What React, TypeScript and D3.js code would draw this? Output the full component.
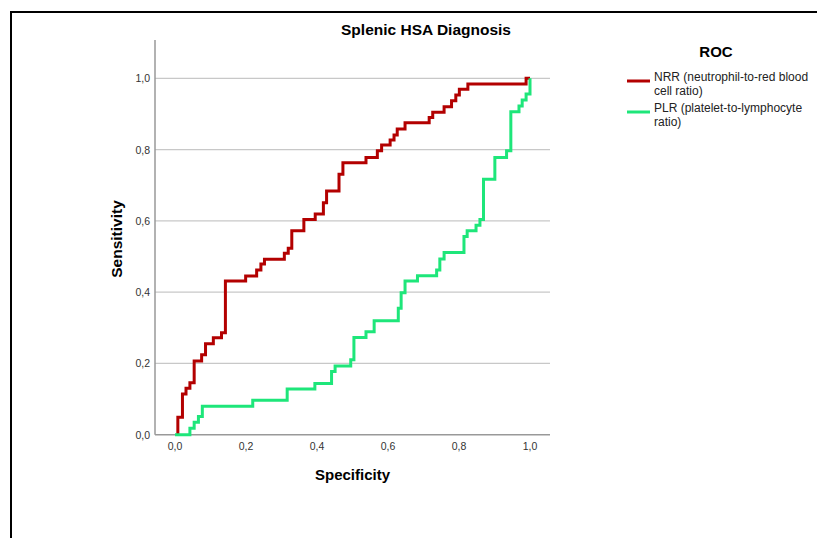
import * as d3 from 'd3';

// ROC step points (specificity axis value, sensitivity)
const nrrSpec = [0.008, 0.008, 0.021, 0.031, 0.042, 0.054, 0.075, 0.086, 0.108, 0.131, 0.142, 0.199, 0.230, 0.242, 0.252, 0.308, 0.319, 0.329, 0.363, 0.395, 0.418, 0.427, 0.462, 0.473, 0.538, 0.570, 0.582, 0.606, 0.617, 0.626, 0.648, 0.716, 0.726, 0.758, 0.779, 0.791, 0.801, 0.825, 0.989, 1.0];
const nrrSens = [0, 0.049, 0.114, 0.130, 0.146, 0.207, 0.224, 0.255, 0.272, 0.286, 0.431, 0.445, 0.462, 0.479, 0.492, 0.509, 0.523, 0.572, 0.604, 0.619, 0.651, 0.684, 0.731, 0.763, 0.778, 0.797, 0.813, 0.827, 0.841, 0.858, 0.875, 0.890, 0.905, 0.920, 0.937, 0.953, 0.969, 0.984, 1.0, 1.0];

const plrSpec = [0, 0.042, 0.054, 0.066, 0.077, 0.219, 0.316, 0.394, 0.441, 0.451, 0.495, 0.504, 0.538, 0.561, 0.629, 0.637, 0.648, 0.683, 0.737, 0.746, 0.758, 0.814, 0.823, 0.848, 0.859, 0.869, 0.901, 0.934, 0.946, 0.969, 0.978, 0.989, 1.0];
const plrSens = [0, 0.018, 0.035, 0.051, 0.080, 0.097, 0.128, 0.144, 0.177, 0.193, 0.210, 0.273, 0.289, 0.320, 0.355, 0.398, 0.431, 0.446, 0.462, 0.493, 0.511, 0.556, 0.572, 0.588, 0.604, 0.717, 0.778, 0.797, 0.906, 0.922, 0.939, 0.956, 1.0];

const ticks = [0, 0.2, 0.4, 0.6, 0.8, 1.0];

const series = [
  { name: 'NRR', label: ['NRR (neutrophil-to-red blood', 'cell ratio)'], color: '#b30000', spec: nrrSpec, sens: nrrSens },
  { name: 'PLR', label: ['PLR (platelet-to-lymphocyte', 'ratio)'], color: '#1ee67a', spec: plrSpec, sens: plrSens },
];

const W = 817;
const H = 538;
const FONT = '"Liberation Sans", Arial, sans-serif';

export default function App() {
  const x = d3.scaleLinear().domain([0, 1]).range([175, 530]);
  const y = d3.scaleLinear().domain([0, 1]).range([434.7, 78.3]);
  const plotLeft = 155;
  const plotRight = 550;
  const plotTop = 40;

  const fmt = (v: number) => v.toFixed(1).replace('.', ',');

  const line = d3.line<[number, number]>()
    .x(d => x(d[0]))
    .y(d => y(d[1]))
    .curve(d3.curveStepAfter);

  return (
    <svg width={W} height={H} style={{ position: 'absolute', left: 0, top: 0, background: '#fff' }}>
      <rect x={0} y={0} width={W} height={H} fill="#fff" />
      {/* outer frame */}
      <path d={`M11,${H + 5} L11,12 L${W + 5},12`} fill="none" stroke="#000" strokeWidth={2} />

      <text x={426} y={35} textAnchor="middle" fontFamily={FONT} fontWeight="bold" fontSize={15.5}>
        Splenic HSA Diagnosis
      </text>

      {/* gridlines */}
      {ticks.filter(t => t > 0).map(t => (
        <line key={t} x1={plotLeft} x2={plotRight} y1={y(t)} y2={y(t)} stroke="#c8c8c8" strokeWidth={1.2} />
      ))}

      {/* axes */}
      <line x1={plotLeft} x2={plotLeft} y1={plotTop} y2={y(0)} stroke="#999" strokeWidth={1.5} />
      <line x1={plotLeft} x2={plotRight} y1={y(0)} y2={y(0)} stroke="#999" strokeWidth={1.5} />

      {ticks.map(t => (
        <text key={'y' + t} x={150} y={y(t) + 4} textAnchor="end" fontFamily={FONT} fontSize={10.5} fill="#333">
          {fmt(t)}
        </text>
      ))}
      {ticks.map(t => (
        <text key={'x' + t} x={x(t)} y={450} textAnchor="middle" fontFamily={FONT} fontSize={10.5} fill="#333">
          {fmt(t)}
        </text>
      ))}

      <text x={352.5} y={480} textAnchor="middle" fontFamily={FONT} fontWeight="bold" fontSize={15}>
        Specificity
      </text>
      <text transform="translate(122,239) rotate(-90)" textAnchor="middle" fontFamily={FONT} fontWeight="bold" fontSize={15.5}>
        Sensitivity
      </text>

      {/* curves */}
      {series.map(s => (
        <path
          key={s.name}
          d={line(s.spec.map((v, i) => [v, s.sens[i]] as [number, number])) || ''}
          fill="none"
          stroke={s.color}
          strokeWidth={3}
        />
      ))}

      {/* legend */}
      <text x={716} y={57} textAnchor="middle" fontFamily={FONT} fontWeight="bold" fontSize={15}>ROC</text>
      {series.map((s, i) => {
        const ly = 81 + i * 31;
        return (
          <g key={'lg' + s.name}>
            <line x1={627} x2={650} y1={ly} y2={ly} stroke={s.color} strokeWidth={3} />
            <text x={654} y={ly} fontFamily={FONT} fontSize={12} fill="#222">{s.label[0]}</text>
            <text x={654} y={ly + 14} fontFamily={FONT} fontSize={12} fill="#222">{s.label[1]}</text>
          </g>
        );
      })}
    </svg>
  );
}
